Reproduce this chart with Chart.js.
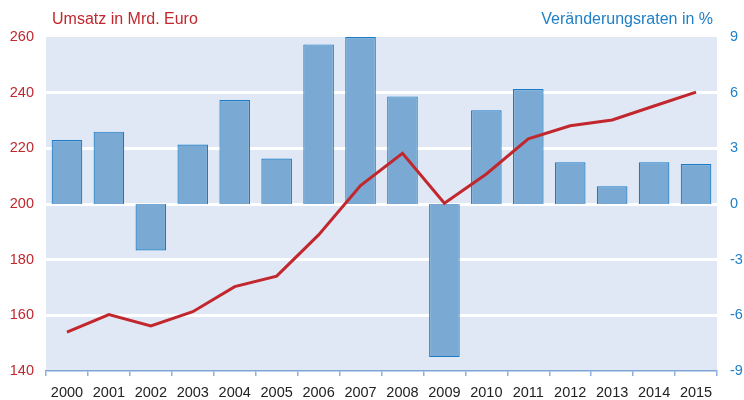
<!DOCTYPE html>
<html><head><meta charset="utf-8">
<script src="https://cdn.jsdelivr.net/npm/chart.js@4"></script>
<style>html,body{margin:0;padding:0;background:#fff}#wrap{width:744px;height:400px}</style>
</head><body><div id="wrap"><canvas id="c"></canvas></div>
<script>
const categories = ['2000','2001','2002','2003','2004','2005','2006','2007','2008','2009','2010','2011','2012','2013','2014','2015'];
const umsatz = [154, 160.3, 156.2, 161.3, 170.3, 174.1, 188.9, 206.6, 218.2, 200.3, 210.8, 223.4, 228.1, 230.2, 235.2, 240.2];
const raten = [3.45, 3.9, -2.5, 3.2, 5.6, 2.45, 8.6, 9.0, 5.8, -8.25, 5.05, 6.2, 2.25, 0.95, 2.25, 2.15];
const leftTicks = {min:140, max:260, step:20};
const rightTicks = {min:-9, max:9, step:3};
const titleLeft = 'Umsatz in Mrd. Euro';
const titleRight = 'Veränderungsraten in %';

const RED = '#c1272d', BLUE = '#1f80c8';
const FONT = "'Liberation Sans', Arial, sans-serif";

const bgPlugin = {
  id:'bg',
  beforeDraw(chart){
    const {ctx, chartArea:a} = chart;
    ctx.save();
    ctx.fillStyle = '#e1e8f5';
    ctx.fillRect(a.left, a.top, a.right-a.left, a.bottom-a.top);
    ctx.restore();
  },
  afterDraw(chart){
    const {ctx} = chart;
    ctx.save();
    ctx.font = '16px ' + FONT;
    ctx.textBaseline = 'middle';
    ctx.fillStyle = RED; ctx.textAlign = 'left';
    ctx.fillText(titleLeft, 52, 20);
    ctx.fillStyle = BLUE; ctx.textAlign = 'right';
    ctx.fillText(titleRight, 713, 20);
    ctx.restore();
  }
};

new Chart(document.getElementById('c'), {
  type:'bar',
  data:{
    labels: categories,
    datasets:[
      {type:'line', label:'Umsatz', data:umsatz, yAxisID:'y', borderColor:RED, borderWidth:3, pointRadius:0, tension:0, order:0},
      {type:'bar', label:'Raten', data:raten, yAxisID:'y1', backgroundColor:'#7aaad4', borderColor:'#1a7cc6', borderWidth:1.2, categoryPercentage:0.73, barPercentage:1, order:1}
    ]
  },
  plugins:[bgPlugin],
  options:{
    responsive:true, maintainAspectRatio:false, animation:false,
    layout:{padding:{top:37, left:0, right:0, bottom:0}},
    plugins:{legend:{display:false}, tooltip:{enabled:false}},
    scales:{
      x:{
        offset:true,
        afterFit(s){ s.height = 29; },
        grid:{offset:true, drawOnChartArea:false, drawTicks:true, tickLength:5, color:'#8fb0dc', lineWidth:1.5},
        border:{display:true, color:'#7fa6da', width:1.5},
        ticks:{color:'#222', font:{family:FONT, size:14.5}, padding:8, maxRotation:0, autoSkip:false}
      },
      y:{
        position:'left', min:leftTicks.min, max:leftTicks.max,
        afterFit(s){ s.width = 46; },
        grid:{drawTicks:false, lineWidth:3, color:(c)=> (c.tick && (c.tick.value===leftTicks.min || c.tick.value===leftTicks.max)) ? 'rgba(0,0,0,0)' : '#ffffff'},
        border:{display:false},
        ticks:{stepSize:leftTicks.step, color:RED, font:{family:FONT, size:14.5}, padding:12}
      },
      y1:{
        position:'right', min:rightTicks.min, max:rightTicks.max,
        afterFit(s){ s.width = 27; },
        grid:{display:false, drawTicks:false},
        border:{display:false},
        ticks:{stepSize:rightTicks.step, color:BLUE, font:{family:FONT, size:14.5}, padding:13}
      }
    }
  }
});
</script></body></html>
